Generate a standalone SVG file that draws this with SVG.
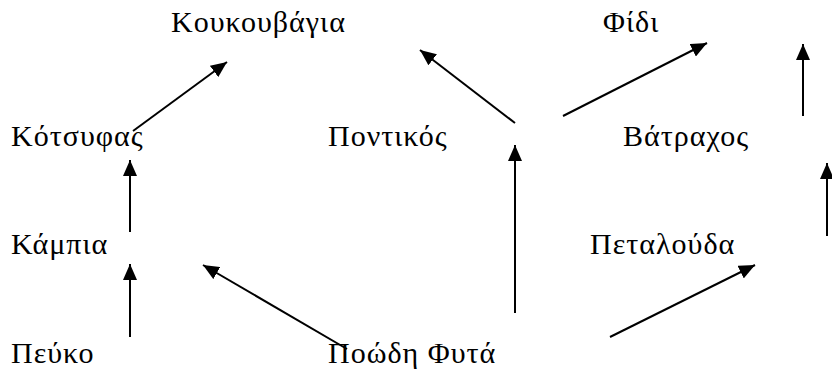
<svg xmlns="http://www.w3.org/2000/svg" width="832" height="374" viewBox="0 0 832 374">
<style>
text{font-family:"Liberation Serif","Times New Roman",serif;font-size:30px;letter-spacing:1px;fill:#000}
.c line{stroke:#000;stroke-width:2;marker-end:url(#ah)}
</style>
<defs>
<marker id="ah" viewBox="0 0 16 14" refX="16" refY="7" markerWidth="16" markerHeight="14" markerUnits="userSpaceOnUse" orient="auto">
<path d="M0,0 L16,7 L0,14 z" fill="#000"/>
</marker>
</defs>
<rect width="832" height="374" fill="#fff"/>
<g id="n-koukouvagia"><text x="171" y="32">Κουκουβάγια</text></g>
<g id="n-fidi"><text x="603" y="32">Φίδι</text></g>
<g id="n-kotsyfas"><text x="11" y="146">Κότσυφας</text></g>
<g id="n-pontikos"><text x="328" y="146">Ποντικός</text></g>
<g id="n-vatrachos"><text x="623" y="146">Βάτραχος</text></g>
<g id="n-kampia"><text x="11" y="254">Κάμπια</text></g>
<g id="n-petalouda"><text x="590" y="254">Πεταλούδα</text></g>
<g id="n-peyko"><text x="11" y="363">Πεύκο</text></g>
<g id="n-poodi"><text x="328" y="363">Ποώδη Φυτά</text></g>
<g class="c" id="connectors">
<line x1="133" y1="131" x2="227" y2="62"/>
<line x1="130" y1="232" x2="130" y2="160"/>
<line x1="130" y1="337" x2="130" y2="264"/>
<line x1="347" y1="349" x2="203" y2="265"/>
<line x1="515" y1="313" x2="515" y2="145"/>
<line x1="515" y1="123" x2="420" y2="50"/>
<line x1="563" y1="116" x2="707" y2="43"/>
<line x1="803" y1="116" x2="803" y2="44"/>
<line x1="827" y1="236" x2="827" y2="163"/>
<line x1="610" y1="337" x2="755" y2="265"/>
</g>
</svg>
